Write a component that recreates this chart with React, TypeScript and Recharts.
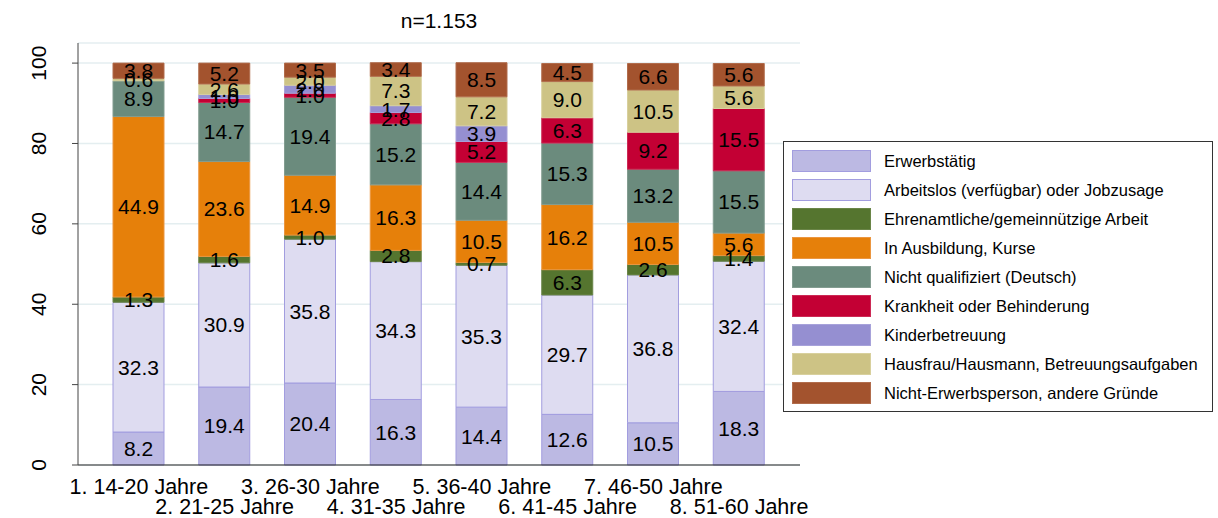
import { BarChart, Bar, XAxis, YAxis, CartesianGrid, LabelList } from 'recharts';

const categories = [
  '1. 14-20 Jahre', '2. 21-25 Jahre', '3. 26-30 Jahre', '4. 31-35 Jahre',
  '5. 36-40 Jahre', '6. 41-45 Jahre', '7. 46-50 Jahre', '8. 51-60 Jahre',
];
const erwerbstaetig = [8.2, 19.4, 20.4, 16.3, 14.4, 12.6, 10.5, 18.3];
const arbeitslos = [32.3, 30.9, 35.8, 34.3, 35.3, 29.7, 36.8, 32.4];
const ehrenamt = [1.3, 1.6, 1.0, 2.8, 0.7, 6.3, 2.6, 1.4];
const ausbildung = [44.9, 23.6, 14.9, 16.3, 10.5, 16.2, 10.5, 5.6];
const nichtQualifiziert = [8.9, 14.7, 19.4, 15.2, 14.4, 15.3, 13.2, 15.5];
const krankheit = [0, 1.0, 1.0, 2.8, 5.2, 6.3, 9.2, 15.5];
const kinderbetreuung = [0, 1.0, 2.0, 1.7, 3.9, 0, 0, 0];
const hausfrau = [0.6, 2.6, 2.0, 7.3, 7.2, 9.0, 10.5, 5.6];
const andereGruende = [3.8, 5.2, 3.5, 3.4, 8.5, 4.5, 6.6, 5.6];
const yTicks = [0, 20, 40, 60, 80, 100];

const series = [
  { key: 'erw', name: 'Erwerbstätig', values: erwerbstaetig, fill: '#bcb9e3', stroke: '#a29ddf' },
  { key: 'arb', name: 'Arbeitslos (verfügbar) oder Jobzusage', values: arbeitslos, fill: '#dedcf1', stroke: '#a29ddf' },
  { key: 'ehr', name: 'Ehrenamtliche/gemeinnützige Arbeit', values: ehrenamt, fill: '#55752f', stroke: '#6a8548' },
  { key: 'aus', name: 'In Ausbildung, Kurse', values: ausbildung, fill: '#e6800a', stroke: '#eb9640' },
  { key: 'nq', name: 'Nicht qualifiziert (Deutsch)', values: nichtQualifiziert, fill: '#6b8b7d', stroke: '#839d91' },
  { key: 'kr', name: 'Krankheit oder Behinderung', values: krankheit, fill: '#c30034', stroke: '#cc2a55' },
  { key: 'ki', name: 'Kinderbetreuung', values: kinderbetreuung, fill: '#958fd1', stroke: '#a7a2da' },
  { key: 'hf', name: 'Hausfrau/Hausmann, Betreuungsaufgaben', values: hausfrau, fill: '#cdc385', stroke: '#d8d09d' },
  { key: 'an', name: 'Nicht-Erwerbsperson, andere Gründe', values: andereGruende, fill: '#a3532e', stroke: '#b16c4c' },
];

const data = categories.map((name, i) => {
  const row: Record<string, any> = { name };
  series.forEach((s) => { row[s.key] = s.values[i]; });
  return row;
});

const font = "'Liberation Sans', Arial, sans-serif";

// category labels alternate between two rows
const XTick = (props: any) => {
  const { x, y, payload, index } = props;
  const dy = index % 2 === 0 ? 21 : 41;
  return (
    <text x={x} y={y + dy} textAnchor="middle" fontSize={21.5} fill="#000" fontFamily={font}>
      {payload.value}
    </text>
  );
};

const YTick = (props: any) => {
  const { x, y, payload } = props;
  const bx = x - 24;
  return (
    <text x={bx} y={y} transform={`rotate(-90 ${bx} ${y})`} textAnchor="middle" fontSize={21} fill="#000" fontFamily={font}>
      {payload.value}
    </text>
  );
};

const LegendBox = () => (
  <div style={{ position: 'absolute', left: 783, top: 141, width: 430, height: 271, border: '1px solid #333', boxSizing: 'border-box', background: '#fff', fontFamily: font, fontSize: 16.5, color: '#000' }}>
    {series.map((s, i) => (
      <div key={s.key} style={{ position: 'absolute', left: 8, top: 8 + i * 29, height: 22, display: 'flex', alignItems: 'center', whiteSpace: 'nowrap' }}>
        <div style={{ width: 79, height: 22, background: s.fill, border: `1px solid ${s.stroke}`, boxSizing: 'border-box' }} />
        <span style={{ marginLeft: 13 }}>{s.name}</span>
      </div>
    ))}
  </div>
);

export default function App() {
  return (
    <div style={{ position: 'absolute', left: 0, top: 0, width: 1218, height: 518, background: '#fff' }}>
      <div style={{ position: 'absolute', left: 0, width: 878, top: 9, textAlign: 'center', fontFamily: font, fontSize: 21, color: '#000' }}>
        n=1.153
      </div>
      <BarChart width={1218} height={518} data={data} margin={{ top: 43, right: 418, bottom: 0, left: 0 }} barSize={51}>
        <CartesianGrid vertical={false} stroke="#e4eef0" strokeWidth={1.5} />
        <XAxis dataKey="name" height={53} padding={{ left: 18, right: 18 }} tickLine={false} tick={<XTick />} interval={0} stroke="#222" />
        <YAxis width={78} domain={[0, 105]} ticks={yTicks} tickSize={6} tick={<YTick />} stroke="#444" />
        {series.map((s) => (
          <Bar key={s.key} dataKey={s.key} name={s.name} stackId="a" fill={s.fill} stroke={s.stroke} strokeWidth={1} isAnimationActive={false}>
            <LabelList dataKey={s.key} position="center" fill="#000" fontSize={21} fontFamily={font} formatter={(v: any) => (v ? Number(v).toFixed(1) : '')} />
          </Bar>
        ))}
      </BarChart>
      <LegendBox />
    </div>
  );
}
